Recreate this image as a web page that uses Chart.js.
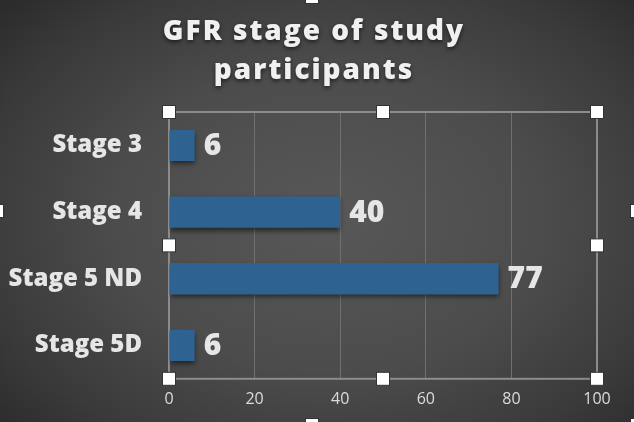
<!DOCTYPE html>
<html lang="en">
<head>
   <meta charset="UTF-8" />
   <title>GFR stage of study participants</title>
   <style>
      body {
         margin: 0;
         padding: 0;
         background: #2b2b2b;
      }
      .chart-box {
         width: 634px;
         height: 422px;
         background: radial-gradient(ellipse 75% 80% at 52% 52%, #585858 0%, #4c4c4c 45%, #3a3a3a 75%, #262626 100%);
      }
   </style>
   <script src="https://cdn.jsdelivr.net/npm/chart.js@4.4.1/dist/chart.umd.min.js"></script>
</head>
<body>
   <div class="chart-box">
      <canvas id="gfrChart" aria-label="chart"></canvas>
   </div>

   <script>
      const titleLines = ['GFR stage of study', 'participants'];
      const stages = ['Stage 3', 'Stage 4', 'Stage 5 ND', 'Stage 5D'];
      const participants = [6, 40, 77, 6];
      const xTicks = [0, 20, 40, 60, 80, 100];

      const fontFamily = '"Open Sans", Arial, sans-serif';

      // title with a soft shadow, drawn by hand
      const titlePlugin = {
         id: 'titleShadow',
         afterDraw(chart) {
            const ctx = chart.ctx;
            ctx.save();
            ctx.font = '800 28px ' + fontFamily;
            ctx.letterSpacing = '2px';
            ctx.fillStyle = '#f0f0f0';
            ctx.textAlign = 'center';
            ctx.textBaseline = 'middle';
            ctx.shadowColor = 'rgba(0,0,0,0.6)';
            ctx.shadowBlur = 4;
            ctx.shadowOffsetY = 2;
            titleLines.forEach((line, i) => {
               ctx.fillText(line, 314, 32 + i * 39);
            });
            ctx.letterSpacing = '0px';
            ctx.restore();
         }
      };

      // plot area frame + bar shadows
      const framePlugin = {
         id: 'frame',
         beforeDatasetsDraw(chart) {
            const a = chart.chartArea;
            const ctx = chart.ctx;
            ctx.save();
            ctx.strokeStyle = '#8c8c8c';
            ctx.lineWidth = 2;
            ctx.strokeRect(a.left, a.top, a.right - a.left, a.bottom - a.top);
            ctx.restore();
            ctx.save();
            ctx.shadowColor = 'rgba(0,0,0,0.55)';
            ctx.shadowBlur = 5;
            ctx.shadowOffsetY = 3;
         },
         afterDatasetsDraw(chart) {
            chart.ctx.restore();
         }
      };

      // value labels at bar ends
      const valueLabels = {
         id: 'valueLabels',
         afterDatasetsDraw(chart) {
            const ctx = chart.ctx;
            const meta = chart.getDatasetMeta(0);
            ctx.save();
            ctx.font = '800 30px ' + fontFamily;
            ctx.fillStyle = '#e6e6e6';
            ctx.textAlign = 'left';
            ctx.textBaseline = 'middle';
            meta.data.forEach((bar, i) => {
               ctx.fillText(String(participants[i]), bar.x + 9, bar.y + 1);
            });
            ctx.restore();
         }
      };

      // selection handles like the screenshot
      const handlesPlugin = {
         id: 'handles',
         afterDraw(chart) {
            const a = chart.chartArea;
            const ctx = chart.ctx;
            const w = chart.width, h = chart.height;
            const midX = (a.left + a.right) / 2;
            const midY = (a.top + a.bottom) / 2;
            const pts = [
               [a.left, a.top], [midX, a.top], [a.right, a.top],
               [a.left, midY], [a.right, midY],
               [a.left, a.bottom], [midX, a.bottom], [a.right, a.bottom],
               [w / 2 - 5, -3], [-3, h / 2], [w + 3, h / 2], [w / 2 - 5, h + 3],
               [w + 3, h + 3]
            ];
            ctx.save();
            pts.forEach(p => {
               ctx.fillStyle = '#ffffff';
               ctx.fillRect(p[0] - 6.5, p[1] - 6.5, 13, 13);
               ctx.strokeStyle = '#333333';
               ctx.lineWidth = 1;
               ctx.strokeRect(p[0] - 6.5, p[1] - 6.5, 13, 13);
            });
            ctx.restore();
         }
      };

      const ctx = document.getElementById('gfrChart').getContext('2d');
      new Chart(ctx, {
         type: 'bar',
         data: {
            labels: stages,
            datasets: [{
               data: participants,
               backgroundColor: (c) => {
                  const area = c.chart.chartArea;
                  if (!area) return '#2e6290';
                  const el = c.element;
                  if (!el || el.y === undefined) return '#2e6290';
                  const g = c.chart.ctx.createLinearGradient(0, el.y - 16, 0, el.y + 16);
                  g.addColorStop(0, '#4c7699');
                  g.addColorStop(0.35, '#30648f');
                  g.addColorStop(1, '#285a85');
                  return g;
               },
               barPercentage: 0.47,
               categoryPercentage: 1.0
            }]
         },
         options: {
            indexAxis: 'y',
            responsive: true,
            maintainAspectRatio: false,
            animation: false,
            layout: {
               padding: { top: 112, right: 37, bottom: 2, left: 4 }
            },
            plugins: {
               legend: { display: false },
               tooltip: { enabled: false }
            },
            scales: {
               x: {
                  min: 0,
                  max: 100,
                  afterBuildTicks: (axis) => {
                     axis.ticks = xTicks.map(v => ({ value: v }));
                  },
                  grid: {
                     color: '#707070',
                     lineWidth: 1,
                     drawTicks: false
                  },
                  border: { display: false },
                  ticks: {
                     color: '#dcdcdc',
                     padding: 11,
                     font: { family: fontFamily, size: 16 }
                  }
               },
               y: {
                  afterFit: (axis) => {
                     axis.width = 165;
                  },
                  grid: { display: false, drawTicks: false },
                  border: { display: false },
                  ticks: {
                     color: '#e6e6e6',
                     padding: 27,
                     font: { family: fontFamily, size: 24, weight: 800 }
                  }
               }
            }
         },
         plugins: [framePlugin, valueLabels, titlePlugin, handlesPlugin]
      });
   </script>
</body>
</html>
